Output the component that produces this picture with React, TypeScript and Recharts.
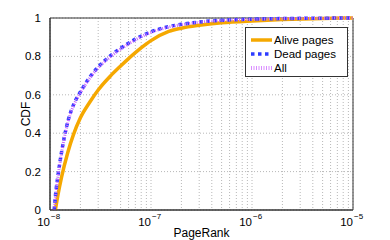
import { LineChart, Line, XAxis, YAxis, CartesianGrid, ReferenceArea, Label } from 'recharts'

// PageRank values (x) shared by the three CDF curves
const pageRank = [
    1.1e-8, 1.13e-8, 1.2e-8, 1.3e-8, 1.5e-8, 1.7e-8, 2e-8, 2.5e-8, 3e-8, 4e-8, 5e-8, 7e-8, 9e-8,
    1e-7, 1.5e-7, 2e-7, 3e-7, 5e-7, 1e-6, 2e-6, 5e-6, 1e-5,
]
const alive = [
    null, 0, 0.08, 0.17, 0.3, 0.39, 0.48, 0.565, 0.625, 0.7, 0.75, 0.82, 0.865,
    0.882, 0.93, 0.947, 0.962, 0.975, 0.985, 0.992, 0.998, 1,
]
const dead = [
    0, 0.07, 0.18, 0.3, 0.46, 0.545, 0.615, 0.695, 0.745, 0.805, 0.842, 0.89, 0.918,
    0.928, 0.955, 0.967, 0.979, 0.988, 0.994, 0.997, 0.999, 1,
]
const all = [
    0, 0.065, 0.175, 0.295, 0.455, 0.54, 0.61, 0.69, 0.74, 0.8, 0.838, 0.886, 0.915,
    0.925, 0.953, 0.965, 0.978, 0.987, 0.993, 0.997, 0.999, 1,
]

const decades = [1e-8, 1e-7, 1e-6, 1e-5]
const minorSteps = [1, 2, 3, 4, 5, 6, 7, 8, 9]
const yTicks = [0, 0.2, 0.4, 0.6, 0.8, 1]

const seriesNames = ['Alive pages', 'Dead pages', 'All']

const rows = pageRank.map((x, i) => ({ x, alive: alive[i], dead: dead[i], all: all[i] }))
const xTicks = decades.slice(0, -1).flatMap(d => minorSteps.map(m => d * m)).concat([1e-5])

const font = '"Liberation Sans", Arial, sans-serif'

const PowerTick = (props: any) => {
    const { x, y, payload } = props
    const e = Math.log10(payload.value)
    if (Math.abs(e - Math.round(e)) > 1e-6) return null
    return (
        <g>
            <text x={x} y={y + 8} textAnchor="end" fontSize={11.5} fill="#000" fontFamily={font}>10</text>
            <text x={x + 1} y={y + 1} textAnchor="start" fontSize={8} fill="#000" fontFamily={font}>{'\u2212' + Math.abs(Math.round(e))}</text>
        </g>
    )
}

const LegendBox = () => (
    <div style={{ position: 'absolute', left: 245, top: 27, border: '1px solid #333', background: '#fff', width: 101, height: 48, fontFamily: font, fontSize: 11.5 }}>
        {seriesNames.map((name, i) => (
            <div key={name} style={{ display: 'flex', alignItems: 'center', height: 14, marginTop: i === 0 ? 5 : 0 }}>
                <svg width={28} height={10}>
                    {i === 0 && <line x1={5} x2={26} y1={5} y2={5} stroke="#f5a800" strokeWidth={3.5} />}
                    {i === 1 && <line x1={5} x2={26} y1={5} y2={5} stroke="#2d3cff" strokeWidth={3.5} strokeDasharray="3.5 3.5" />}
                    {i === 2 && <line x1={5} x2={26} y1={5} y2={5} stroke="#d98cff" strokeWidth={4} strokeDasharray="1 1.5" />}
                </svg>
                <span>{name}</span>
            </div>
        ))}
    </div>
)

const App = () => {
    return (
        <div style={{ position: 'absolute', left: 0, top: 0 }}>
            <LineChart width={390} height={240} data={rows} margin={{ top: 18, right: 37, bottom: 0, left: 0 }}>
                <CartesianGrid stroke="#b8b8b8" strokeDasharray="1 2" />
                <XAxis dataKey="x" type="number" scale="log" domain={[1e-8, 1e-5]} allowDataOverflow ticks={xTicks}
                    interval={0} tick={<PowerTick />} tickLine={false} height={30} axisLine={{ stroke: '#333' }}>
                    <Label value="PageRank" position="insideBottom" offset={3} style={{ fontFamily: font, fontSize: 12, fill: '#000' }} />
                </XAxis>
                <YAxis type="number" domain={[0, 1]} ticks={yTicks} width={50} tickLine={false} axisLine={{ stroke: '#333' }}
                    tickFormatter={(v: number) => String(v)} tick={{ fontSize: 11.5, fill: '#000', fontFamily: font }} tickMargin={3}>
                    <Label value="CDF" angle={-90} position="insideLeft" offset={26} style={{ fontFamily: font, fontSize: 12, fill: '#000', textAnchor: 'middle' }} />
                </YAxis>
                <ReferenceArea x1={1e-8} x2={1e-5} y1={0} y2={1} fill="none" stroke="#333" strokeOpacity={1} />
                <Line dataKey="alive" name="Alive pages" type="monotone" stroke="#f5a800" strokeWidth={3.5} dot={false} isAnimationActive={false} />
                <Line dataKey="dead" name="Dead pages" type="monotone" stroke="#2d3cff" strokeWidth={3.5} strokeDasharray="3.5 3.5" dot={false} isAnimationActive={false} />
                <Line dataKey="all" name="All" type="monotone" stroke="#cc66ff" strokeWidth={3} strokeDasharray="1 1.5" dot={false} isAnimationActive={false} />
            </LineChart>
            <LegendBox />
        </div>
    )
}

export default App
